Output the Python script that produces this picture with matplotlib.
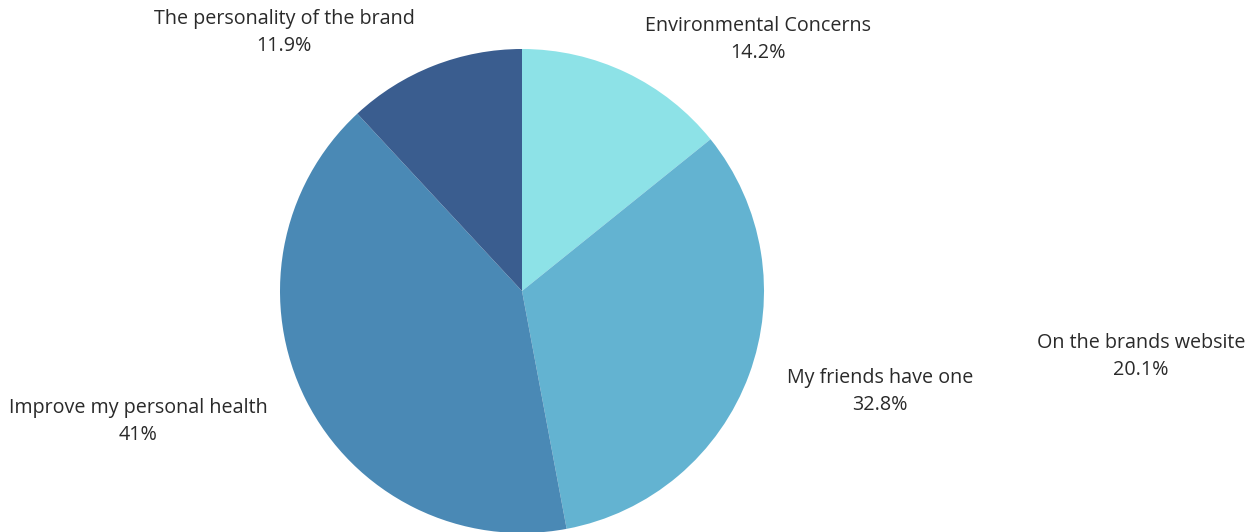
import matplotlib
matplotlib.use("Agg")
import matplotlib.pyplot as plt

categories = ["Environmental Concerns", "My friends have one",
              "Improve my personal health", "The personality of the brand"]
values = [14.2, 32.8, 41.0, 11.9]
value_labels = ["14.2%", "32.8%", "41%", "11.9%"]
orphan_category = "On the brands website"
orphan_label = "20.1%"

colors = ["#8DE2E7", "#63B3D1", "#4A89B5", "#3A5D8F"]
# label centres in pixel coordinates (x, y from top)
label_pos = [(758, 26), (880, 378), (138, 408), (284, 19)]
orphan_pos = (1141, 343)

W, H = 1254, 532
fig = plt.figure(figsize=(W / 100, H / 100), dpi=100)
ax = fig.add_axes([0, 0, 1, 1])

ax.pie(values, colors=colors, startangle=90, counterclock=False,
       center=(522, H - 291), radius=242, frame=True,
       wedgeprops=dict(linewidth=0))
ax.set_xlim(0, W)
ax.set_ylim(0, H)
ax.set_aspect("auto")
ax.axis("off")

font = dict(family=["Open Sans", "DejaVu Sans"], fontsize=14.2, color="#2a2a2a")
lh = 27
for cat, lab, (x, y) in zip(categories, value_labels, label_pos):
    ax.text(x, H - y, cat, ha="center", va="center", **font)
    ax.text(x, H - y - lh, lab, ha="center", va="center", **font)
ax.text(orphan_pos[0], H - orphan_pos[1], orphan_category, ha="center", va="center", **font)
ax.text(orphan_pos[0], H - orphan_pos[1] - lh, orphan_label, ha="center", va="center", **font)

fig.savefig("out.png", dpi=100, facecolor="white")
